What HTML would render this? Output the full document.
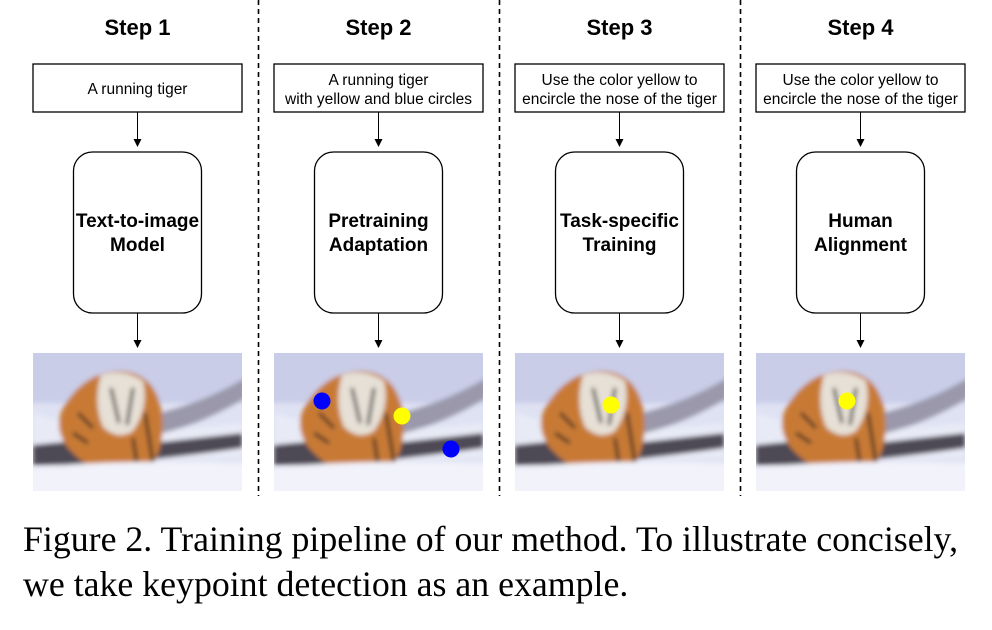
<!DOCTYPE html>
<html><head><meta charset="utf-8"><style>
body{margin:0;background:#fff;width:992px;height:625px;overflow:hidden}
svg text{font-family:"Liberation Sans",Arial,sans-serif}
</style></head><body>
<svg width="992" height="625" viewBox="0 0 992 625" xmlns="http://www.w3.org/2000/svg">
<defs>
<marker id="ah" markerWidth="8" markerHeight="8" refX="4" refY="4" orient="auto" markerUnits="userSpaceOnUse">
<path d="M0,0 L8,4 L0,8 z" fill="#000"/></marker>
<filter id="bl" x="0" y="0" width="1" height="1"><feGaussianBlur stdDeviation="2.5"/></filter>
<clipPath id="cp"><rect x="0" y="0" width="209" height="138"/></clipPath>
<g id="tiger">
<rect x="0" y="0" width="209" height="138" fill="#dfe2f3"/>
<g clip-path="url(#cp)" filter="url(#bl)">
<rect x="-5" y="-5" width="220" height="55" fill="#c9cde8"/>
<path d="M0,60 Q50,75 100,80 L209,70 L209,105 L0,110 z" fill="#e8eaf6"/>
<path d="M0,92 Q60,85 120,90 L209,80 L209,95 Q140,105 60,112 L0,112 z" fill="#4d4a55"/>
<path d="M120,62 Q170,50 212,25 L212,45 Q170,70 130,80 z" fill="#9a98aa"/>
<path d="M30,55 Q50,20 85,18 Q120,18 128,55 Q135,100 110,122 L75,124 Q50,112 35,95 Q20,75 30,55 z" fill="#c87a35"/>
<path d="M68,22 Q90,15 110,28 Q116,55 100,78 Q85,88 70,74 Q60,50 68,22 z" fill="#e6e0d6"/>
<path d="M78,35 L86,70 M100,35 L94,72 M112,60 L120,110 M100,85 L105,118 M45,60 L60,75 M40,80 L55,90" stroke="#222" stroke-width="3" fill="none"/>
<path d="M-5,115 Q80,106 215,110 L215,145 L-5,145 z" fill="#f1f2fa"/>
</g>
</g>
</defs>
<g stroke="#000" stroke-width="1.6" stroke-dasharray="5,4">
<line x1="258.5" y1="0" x2="258.5" y2="496"/>
<line x1="499.5" y1="0" x2="499.5" y2="496"/>
<line x1="740.5" y1="0" x2="740.5" y2="496"/>
</g>
<g font-weight="bold" font-size="22" text-anchor="middle">
<text x="137.5" y="35">Step 1</text><text x="378.5" y="35">Step 2</text>
<text x="619.5" y="35">Step 3</text><text x="860.5" y="35">Step 4</text>
</g>
<g fill="none" stroke="#000" stroke-width="1.3">
<rect x="33" y="64" width="209" height="48"/><rect x="274" y="64" width="209" height="48"/>
<rect x="515" y="64" width="209" height="48"/><rect x="756" y="64" width="209" height="48"/>
<rect x="73.5" y="152" width="128" height="161" rx="19"/><rect x="314.5" y="152" width="128" height="161" rx="19"/>
<rect x="555.5" y="152" width="128" height="161" rx="19"/><rect x="796.5" y="152" width="128" height="161" rx="19"/>
</g>
<g stroke="#000" stroke-width="1" marker-end="url(#ah)">
<line x1="137.5" y1="112" x2="137.5" y2="143"/><line x1="378.5" y1="112" x2="378.5" y2="143"/>
<line x1="619.5" y1="112" x2="619.5" y2="143"/><line x1="860.5" y1="112" x2="860.5" y2="143"/>
<line x1="137.5" y1="313" x2="137.5" y2="344"/><line x1="378.5" y1="313" x2="378.5" y2="344"/>
<line x1="619.5" y1="313" x2="619.5" y2="344"/><line x1="860.5" y1="313" x2="860.5" y2="344"/>
</g>
<g font-size="15.5" text-anchor="middle">
<text x="137.5" y="94">A running tiger</text>
<text x="378.5" y="85">A running tiger</text><text x="378.5" y="104">with yellow and blue circles</text>
<text x="619.5" y="85">Use the color yellow to</text><text x="619.5" y="104">encircle the nose of the tiger</text>
<text x="860.5" y="85">Use the color yellow to</text><text x="860.5" y="104">encircle the nose of the tiger</text>
</g>
<g font-size="19" font-weight="bold" text-anchor="middle">
<text x="137.5" y="227">Text-to-image</text><text x="137.5" y="251">Model</text>
<text x="378.5" y="227">Pretraining</text><text x="378.5" y="251">Adaptation</text>
<text x="619.5" y="227">Task-specific</text><text x="619.5" y="251">Training</text>
<text x="860.5" y="227">Human</text><text x="860.5" y="251">Alignment</text>
</g>
<use href="#tiger" x="33" y="353"/><use href="#tiger" x="274" y="353"/>
<use href="#tiger" x="515" y="353"/><use href="#tiger" x="756" y="353"/>
<circle cx="322" cy="401" r="8.5" fill="#0000ff"/>
<circle cx="402" cy="416" r="8.5" fill="#ffff00"/>
<circle cx="451" cy="449" r="8.5" fill="#0000ff"/>
<circle cx="611" cy="405" r="8.5" fill="#ffff00"/>
<circle cx="847" cy="401" r="8.5" fill="#ffff00"/>
<g font-size="35.8" fill="#000">
<text x="23" y="551" style="font-family:'Liberation Serif',serif">Figure 2. Training pipeline of our method. To illustrate concisely,</text>
<text x="23" y="596" style="font-family:'Liberation Serif',serif">we take keypoint detection as an example.</text>
</g>
</svg>
</body></html>
